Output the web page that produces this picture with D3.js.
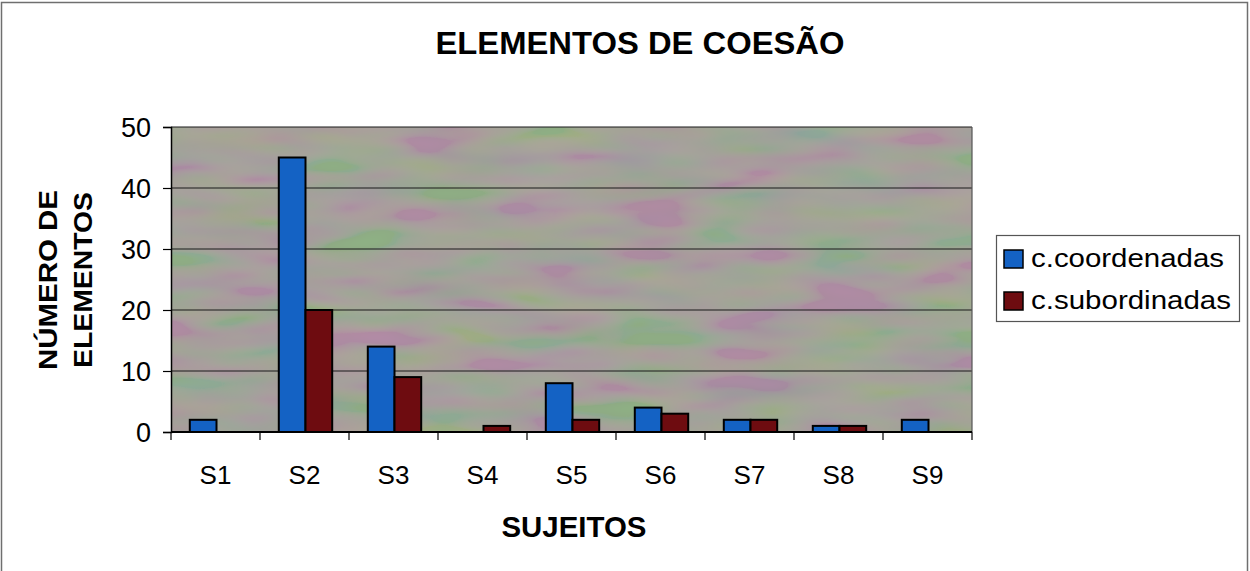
<!DOCTYPE html>
<html>
<head>
<meta charset="utf-8">
<script src="https://cdn.jsdelivr.net/npm/d3@7"></script>
<style>
  html, body { margin: 0; padding: 0; background: #ffffff; }
  svg { display: block; }
  text { font-family: "Liberation Sans", Arial, Helvetica, sans-serif; fill: #000; }
</style>
</head>
<body>
<svg id="chart" width="1250" height="571"></svg>
<script>
// Cohesion elements per subject
const subjects = ["S1", "S2", "S3", "S4", "S5", "S6", "S7", "S8", "S9"];
const seriesNames = ["c.coordenadas", "c.subordinadas"];
const coordenadas = [2, 45, 14, 0, 8, 4, 2, 1, 2];
const subordinadas = [0, 20, 9, 1, 2, 3, 2, 1, 0];
const yTicks = [0, 10, 20, 30, 40, 50];
const seriesColors = ["#1462c4", "#6e0c10"];

const svg = d3.select("#chart");
const W = 1250, H = 571;
const plot = { left: 171, right: 972, top: 127, bottom: 432 };

// outer chart frame
svg.append("rect")
  .attr("x", 1.5).attr("y", 2.5).attr("width", W - 4).attr("height", H + 20)
  .attr("fill", "#fff").attr("stroke", "#6f6f6f").attr("stroke-width", 1.5);

const defs = svg.append("defs");
// mottled grey wall texture
const f = defs.append("filter").attr("id", "mottle")
  .attr("x", 0).attr("y", 0).attr("width", 1).attr("height", 1);
f.append("feTurbulence").attr("type", "fractalNoise")
  .attr("baseFrequency", "0.01 0.04").attr("numOctaves", 2).attr("seed", 7).attr("result", "n");
f.append("feColorMatrix").attr("in", "n").attr("type", "matrix")
  .attr("values", "1.0 -0.6 0 0 0.05  -0.5 1.0 -0.3 0 0.15  0.5 -0.6 0.5 0 0.05  0 0 0 0 0.16");

const x0 = d3.scaleBand().domain(subjects).range([plot.left, plot.right])
  .paddingInner(0.4).paddingOuter(0.2);
const x1 = d3.scaleBand().domain(seriesNames).range([0, x0.bandwidth()]);
const y = d3.scaleLinear().domain([0, 50]).range([plot.bottom, plot.top]);

// plot area
svg.append("rect")
  .attr("x", plot.left).attr("y", plot.top)
  .attr("width", plot.right - plot.left).attr("height", plot.bottom - plot.top)
  .attr("fill", "#a9a69d");
svg.append("rect")
  .attr("x", plot.left).attr("y", plot.top)
  .attr("width", plot.right - plot.left).attr("height", plot.bottom - plot.top)
  .attr("filter", "url(#mottle)");

// gridlines
svg.append("g").selectAll("line").data(yTicks.filter(d => d > 0)).join("line")
  .attr("x1", plot.left).attr("x2", plot.right)
  .attr("y1", d => y(d)).attr("y2", d => y(d))
  .attr("stroke", "#1a1a1a").attr("stroke-width", 1.2);

// right border
svg.append("line")
  .attr("x1", plot.right).attr("x2", plot.right)
  .attr("y1", plot.top).attr("y2", plot.bottom)
  .attr("stroke", "#555").attr("stroke-width", 1.2);

// bars
const rows = subjects.map((s, i) => ({ s, vals: [coordenadas[i], subordinadas[i]] }));
const groups = svg.append("g").selectAll("g").data(rows).join("g")
  .attr("transform", d => `translate(${x0(d.s) + 1},0)`);
groups.selectAll("rect")
  .data(d => d.vals.map((v, k) => ({ v, k })).filter(e => e.v > 0))
  .join("rect")
  .attr("x", e => x1(seriesNames[e.k]))
  .attr("y", e => y(e.v))
  .attr("width", x1.bandwidth())
  .attr("height", e => y(0) - y(e.v))
  .attr("fill", e => seriesColors[e.k])
  .attr("stroke", "#000").attr("stroke-width", 2);

// y axis
const yAxis = svg.append("g").attr("transform", `translate(${plot.left},0)`)
  .call(d3.axisLeft(y).tickValues(yTicks).tickSize(8).tickPadding(12));
yAxis.select(".domain").attr("stroke", "#000").attr("stroke-width", 1.5);
yAxis.selectAll(".tick line").attr("stroke", "#000").attr("stroke-width", 1.2);
yAxis.selectAll(".tick text")
  .style("font-family", "'Liberation Sans', Arial, sans-serif")
  .attr("font-size", 27).attr("dy", "0.36em");

// x axis with ticks on band boundaries
const xAxisG = svg.append("g");
xAxisG.append("line")
  .attr("x1", plot.left).attr("x2", plot.right)
  .attr("y1", plot.bottom).attr("y2", plot.bottom)
  .attr("stroke", "#000").attr("stroke-width", 1.8);
const step = x0.step();
const bounds = d3.range(subjects.length + 1).map(i => plot.left + i * step);
xAxisG.selectAll("line.tk").data(bounds).join("line").attr("class", "tk")
  .attr("x1", d => d).attr("x2", d => d)
  .attr("y1", plot.bottom).attr("y2", plot.bottom + 8)
  .attr("stroke", "#000").attr("stroke-width", 1.2);
xAxisG.selectAll("text").data(subjects).join("text")
  .attr("x", d => x0(d) + x0.bandwidth() / 2)
  .attr("y", 484)
  .attr("text-anchor", "middle")
  .attr("font-size", 26)
  .text(d => d);

// titles
svg.append("text")
  .attr("x", 640).attr("y", 54).attr("text-anchor", "middle")
  .attr("font-size", 31).attr("font-weight", "bold")
  .attr("textLength", 409).attr("lengthAdjust", "spacingAndGlyphs")
  .text("ELEMENTOS DE COESÃO");

svg.append("text")
  .attr("x", 574).attr("y", 537).attr("text-anchor", "middle")
  .attr("font-size", 30).attr("font-weight", "bold")
  .attr("textLength", 145).attr("lengthAdjust", "spacingAndGlyphs")
  .text("SUJEITOS");

const yTitle = [
  { t: "NÚMERO DE", x: 57, len: 180 },
  { t: "ELEMENTOS", x: 92, len: 176 }
];
svg.append("g").selectAll("text").data(yTitle).join("text")
  .attr("transform", d => `translate(${d.x},280) rotate(-90)`)
  .attr("text-anchor", "middle")
  .attr("font-size", 26).attr("font-weight", "bold")
  .attr("textLength", d => d.len).attr("lengthAdjust", "spacingAndGlyphs")
  .text(d => d.t);

// legend
const lg = svg.append("g");
lg.append("rect")
  .attr("x", 996.5).attr("y", 235.5).attr("width", 243).attr("height", 86)
  .attr("fill", "#fff").attr("stroke", "#555").attr("stroke-width", 1.2);
const items = lg.selectAll("g").data(seriesNames).join("g")
  .attr("transform", (d, i) => `translate(1004,${250 + i * 42})`);
items.append("rect")
  .attr("width", 19).attr("height", 18)
  .attr("fill", (d, i) => seriesColors[i])
  .attr("stroke", "#000").attr("stroke-width", 1.5);
items.append("text")
  .attr("x", 27).attr("y", 17)
  .attr("font-size", 26)
  .attr("textLength", (d, i) => i === 0 ? 193 : 200)
  .attr("lengthAdjust", "spacingAndGlyphs")
  .text(d => d);
</script>
</body>
</html>
